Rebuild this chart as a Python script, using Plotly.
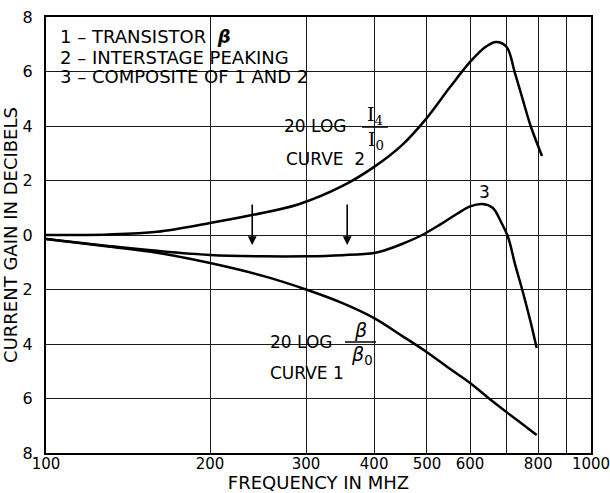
import numpy as np
import plotly.graph_objects as go

# ---------------- data ----------------
freq_curve1 = [100, 130, 160, 200, 250, 300, 350, 400, 450, 500, 550, 600, 650, 700, 750, 795]
gain_curve1 = [-0.15, -0.42, -0.65, -1.03, -1.5, -2.0, -2.5, -3.05, -3.7, -4.3, -4.9, -5.43, -6.0, -6.5, -6.95, -7.34]

freq_curve2 = [100, 130, 160, 200, 240, 290, 350, 400, 450, 500, 550, 600, 640, 670, 700, 725, 750, 775, 813]
gain_curve2 = [0.0, 0.02, 0.12, 0.44, 0.74, 1.12, 1.8, 2.5, 3.3, 4.3, 5.4, 6.35, 6.9, 7.08, 6.9, 5.95, 4.95, 4.0, 2.9]

freq_curve3 = [100, 130, 160, 200, 250, 300, 350, 400, 420, 450, 490, 530, 570, 600, 632, 660, 685, 705, 725, 750,
               775, 795]
gain_curve3 = [-0.15, -0.4, -0.58, -0.73, -0.78, -0.78, -0.74, -0.66, -0.55, -0.33, 0.0, 0.4, 0.8, 1.05, 1.14, 1.0,
               0.45, -0.1, -1.05, -2.1, -3.2, -4.15]

arrow_freqs = [239, 357]
arrow_tip_gain = -0.37

x_tick_vals = [100, 200, 300, 400, 500, 600, 700, 800, 900, 1000]
x_tick_text = ["100", "200", "300", "400", "500", "600", "", "800", "", "1000"]
y_tick_vals = [-8, -6, -4, -2, 0, 2, 4, 6, 8]
y_tick_text = [str(abs(v)) for v in y_tick_vals]

legend_lines = ["1 \u2013 TRANSISTOR  <b><i>\u03b2</i></b>",
                "2 \u2013 INTERSTAGE PEAKING",
                "3 \u2013 COMPOSITE OF 1 AND 2"]

# ---------------- layout helpers (pixel -> paper) ----------------
L, R, T, B = 46, 19, 17, 40
W, H = 610, 493
PW, PH = W - L - R, H - T - B


def px(X):
    return (X - L) / PW


def py(Y):
    return (H - B - Y) / PH


FONT = "DejaVu Sans"
INK = "black"

fig = go.Figure()
for f, g in [(freq_curve1, gain_curve1), (freq_curve2, gain_curve2), (freq_curve3, gain_curve3)]:
    fig.add_trace(go.Scatter(x=f, y=g, mode="lines",
                             line=dict(color=INK, width=2.5, shape="spline", smoothing=1.0),
                             showlegend=False, hoverinfo="skip"))

shapes = []
# white masks behind labels (hide the grid, drawn under the curves)
for (x0, y0, x1, y1) in [(50, 25, 318, 92), (272, 101, 398, 170), (256, 316, 390, 390)]:
    shapes.append(dict(type="rect", xref="paper", yref="paper", layer="between",
                       x0=px(x0), x1=px(x1), y0=py(y1), y1=py(y0),
                       fillcolor="white", line=dict(width=0)))
# fraction bars
shapes.append(dict(type="line", xref="paper", yref="paper", x0=px(362), x1=px(388),
                   y0=py(127), y1=py(127), line=dict(color=INK, width=1.5)))
shapes.append(dict(type="line", xref="paper", yref="paper", x0=px(345), x1=px(376),
                   y0=py(342), y1=py(342), line=dict(color=INK, width=1.5)))

annotations = []


def txt(X, Y, s, size=17, xanchor="left", family=FONT):
    annotations.append(dict(x=px(X), y=py(Y), xref="paper", yref="paper", text=s,
                            showarrow=False, xanchor=xanchor, yanchor="middle",
                            font=dict(family=family, size=size, color=INK)))


for i, line in enumerate(legend_lines):
    txt(58, 37 + 20 * i, line, size=18)

txt(282, 126, "20 LOG")
txt(375, 115, "I<sub>4</sub>", xanchor="center", family="DejaVu Serif", size=19)
txt(376, 140, "I<sub>0</sub>", xanchor="center", family="DejaVu Serif", size=19)
txt(284, 159, "CURVE  2")

txt(268, 342, "20 LOG")
txt(360, 330, "<i>\u03b2</i>", xanchor="center", size=19)
txt(362, 355, "<i>\u03b2</i><sub>0</sub>", xanchor="center", size=19)
txt(268, 373, "CURVE 1")

txt(484, 192, "3", xanchor="center")

for f in arrow_freqs:
    annotations.append(dict(x=np.log10(f), y=arrow_tip_gain, xref="x", yref="y", text="",
                            showarrow=True, ax=0, ay=-42, arrowhead=2, arrowsize=1.1,
                            arrowwidth=1.6, arrowcolor=INK))

fig.update_layout(
    width=W, height=H, margin=dict(l=L, r=R, t=T, b=B, autoexpand=False),
    paper_bgcolor="white", plot_bgcolor="white",
    font=dict(family=FONT, size=16, color=INK),
    shapes=shapes, annotations=annotations,
    xaxis=dict(type="log", range=[2, 3], tickvals=x_tick_vals, ticktext=x_tick_text,
               showgrid=True, gridcolor="#1a1a1a", gridwidth=1.2, automargin=False,
               showline=True, linecolor=INK, linewidth=2, mirror=True, ticks="", ticklen=0,
               zeroline=False, tickfont=dict(size=15), ticklabelstandoff=-4,
               ticklabeloverflow="allow",
               title=dict(text="FREQUENCY IN MHZ", font=dict(size=18), standoff=7)),
    yaxis=dict(range=[-8, 8], tickvals=y_tick_vals, ticktext=y_tick_text,
               showgrid=True, gridcolor="#1a1a1a", gridwidth=1.2, automargin=False,
               showline=True, linecolor=INK, linewidth=2, mirror=True, ticks="", ticklen=0,
               zeroline=False, tickfont=dict(size=16), ticklabelstandoff=8,
               title=dict(text="CURRENT GAIN IN DECIBELS", font=dict(size=18), standoff=6)),
)

fig.write_html("out.html")
